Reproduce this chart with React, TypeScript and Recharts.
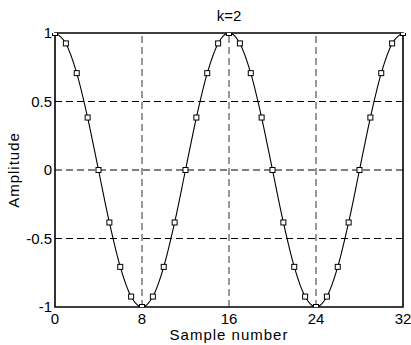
import React from "react";
import {
  LineChart,
  Line,
  XAxis,
  YAxis,
  ReferenceLine,
  ReferenceArea,
} from "recharts";

// samples of the k=2 cosine
const sampleNumbers = [
  0, 1, 2, 3, 4, 5, 6, 7, 8, 9, 10, 11, 12, 13, 14, 15, 16,
  17, 18, 19, 20, 21, 22, 23, 24, 25, 26, 27, 28, 29, 30, 31, 32,
];
const amplitudes = [
  1, 0.924, 0.707, 0.383, 0, -0.383, -0.707, -0.924, -1, -0.924, -0.707, -0.383, 0, 0.383, 0.707, 0.924, 1,
  0.924, 0.707, 0.383, 0, -0.383, -0.707, -0.924, -1, -0.924, -0.707, -0.383, 0, 0.383, 0.707, 0.924, 1,
];
const xTicks = [0, 8, 16, 24, 32];
const yTicks = [-1, -0.5, 0, 0.5, 1];
const xGrid = [8, 16, 24];
const yGrid = [-0.5, 0, 0.5];

const FONT = '"Liberation Sans", Arial, Helvetica, sans-serif';

const chartData = sampleNumbers.map((n, i) => ({ n, amp: amplitudes[i] }));

const SquareDot = (props: any) => {
  const { cx, cy, index } = props;
  if (cx == null || cy == null) return null;
  return (
    <rect
      key={`sq-${index}`}
      x={cx - 2.5}
      y={cy - 2.5}
      width={5}
      height={5}
      fill="#fff"
      stroke="#000"
      strokeWidth={1}
    />
  );
};

export default function App() {
  return (
    <div
      style={{
        position: "absolute",
        left: 0,
        top: 0,
        width: 411,
        height: 345,
        background: "#fff",
        fontFamily: FONT,
      }}
    >
      <div
        style={{
          position: "absolute",
          left: 55,
          top: 7,
          width: 348,
          textAlign: "center",
          fontSize: 15,
          lineHeight: "17px",
          color: "#000",
        }}
      >
        k=2
      </div>
      <LineChart
        width={411}
        height={345}
        data={chartData}
        margin={{ top: 33, right: 8, bottom: 0, left: 0 }}
        style={{ fontFamily: FONT }}
      >
        <XAxis
          dataKey="n"
          type="number"
          domain={[0, 32]}
          ticks={xTicks}
          interval={0}
          height={38}
          axisLine={false}
          tickLine={false}
          tickSize={0}
          tickMargin={6}
          tick={{ fill: "#000", fontSize: 15, fontFamily: FONT }}
          label={{
            content: (p: any) => {
              const vb = p.viewBox;
              return (
                <text
                  x={vb.x + vb.width / 2}
                  y={vb.y + vb.height - 5}
                  textAnchor="middle"
                  fontSize={15}
                  letterSpacing={1}
                  fill="#000"
                  fontFamily={FONT}
                >
                  Sample number
                </text>
              );
            },
          }}
        />
        <YAxis
          type="number"
          domain={[-1, 1]}
          ticks={yTicks}
          interval={0}
          width={55}
          axisLine={false}
          tickLine={false}
          tickSize={0}
          tickMargin={3}
          allowDataOverflow
          tick={{ fill: "#000", fontSize: 15, fontFamily: FONT }}
          label={{
            content: (p: any) => {
              const vb = p.viewBox;
              return (
                <text
                  transform={`translate(${vb.x + 19}, ${vb.y + vb.height / 2}) rotate(-90)`}
                  textAnchor="middle"
                  fontSize={15}
                  letterSpacing={1}
                  fill="#000"
                  fontFamily={FONT}
                >
                  Amplitude
                </text>
              );
            },
          }}
        />

        {/* dashed grid at the inner ticks */}
        {xGrid.map((x) => (
          <ReferenceLine key={`gx-${x}`} x={x} stroke="#333" strokeDasharray="7 4" strokeWidth={1} />
        ))}
        {yGrid.map((y) => (
          <ReferenceLine key={`gy-${y}`} y={y} stroke="#000" strokeDasharray="7 4" strokeWidth={1} />
        ))}

        {/* axes box */}
        <ReferenceArea
          x1={0}
          x2={32}
          y1={-1}
          y2={1}
          fill="none"
          fillOpacity={0}
          stroke="#000"
          strokeWidth={1.6}
        />

        <Line
          type="monotone"
          dataKey="amp"
          stroke="#000"
          strokeWidth={1.1}
          dot={SquareDot}
          activeDot={false}
          isAnimationActive={false}
        />
      </LineChart>
    </div>
  );
}
